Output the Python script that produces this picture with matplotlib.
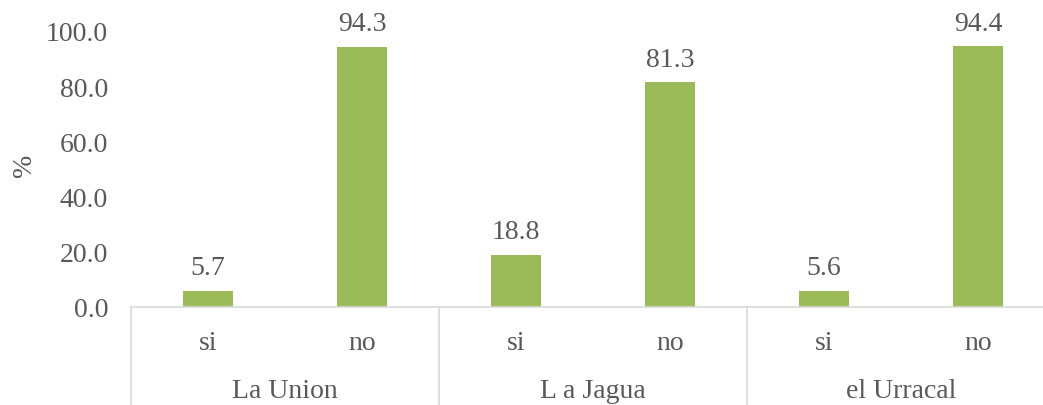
import numpy as np
import matplotlib
matplotlib.use("Agg")
import matplotlib.pyplot as plt

groups = ["La Union", "L a Jagua", "el Urracal"]
answers = ["si", "no"]
values = [5.7, 94.3, 18.8, 81.3, 5.6, 94.4]

plt.rcParams['font.family'] = ['Liberation Serif', 'DejaVu Serif']
txt = '#595959'
grid = '#D9D9D9'
fs = 20

fig = plt.figure(figsize=(10.43, 4.06), dpi=100)
ax = fig.add_axes([131 / 1043, 1 - 307.5 / 406, 924 / 1043, 275.6 / 406])

x = np.arange(len(values))
ax.bar(x, values, width=0.32, color='#9BBB59', zorder=2)
ax.set_xlim(-0.5, len(values) - 0.5)
ax.set_ylim(0, 100)
ax.set_yticks(np.arange(0, 101, 20))
ax.set_yticklabels(["%.1f" % v for v in np.arange(0, 101, 20)], fontsize=fs, color=txt)
ax.tick_params(axis='y', length=0, pad=16.5)
ax.set_xticks([])
for s in ['top', 'right', 'left']:
    ax.spines[s].set_visible(False)
ax.spines['bottom'].set_color(grid)
ax.spines['bottom'].set_linewidth(1.2)

# data labels above bars
for xi, v in zip(x, values):
    ax.annotate("%.1f" % v, (xi, v), xytext=(0, 12), textcoords='offset points',
                ha='center', va='baseline', fontsize=fs, color=txt)

# two-level category axis
tr = ax.get_xaxis_transform()
for i in range(len(values)):
    ax.text(i, -0.154, answers[i % 2], transform=tr, ha='center', va='baseline',
            fontsize=fs, color=txt)
for g, name in enumerate(groups):
    ax.text(2 * g + 0.5, -0.328, name, transform=tr, ha='center', va='baseline',
            fontsize=fs, color=txt)
for b in [-0.5, 1.5, 3.5, 5.5]:
    ax.plot([b, b], [0, -0.4], transform=tr, color=grid, lw=1.2, clip_on=False)

fig.text(25 / 1043, 1 - 165 / 406, "%", rotation=90, ha='center', va='center',
         fontsize=fs, color=txt)

fig.savefig("out.png", dpi=100)
